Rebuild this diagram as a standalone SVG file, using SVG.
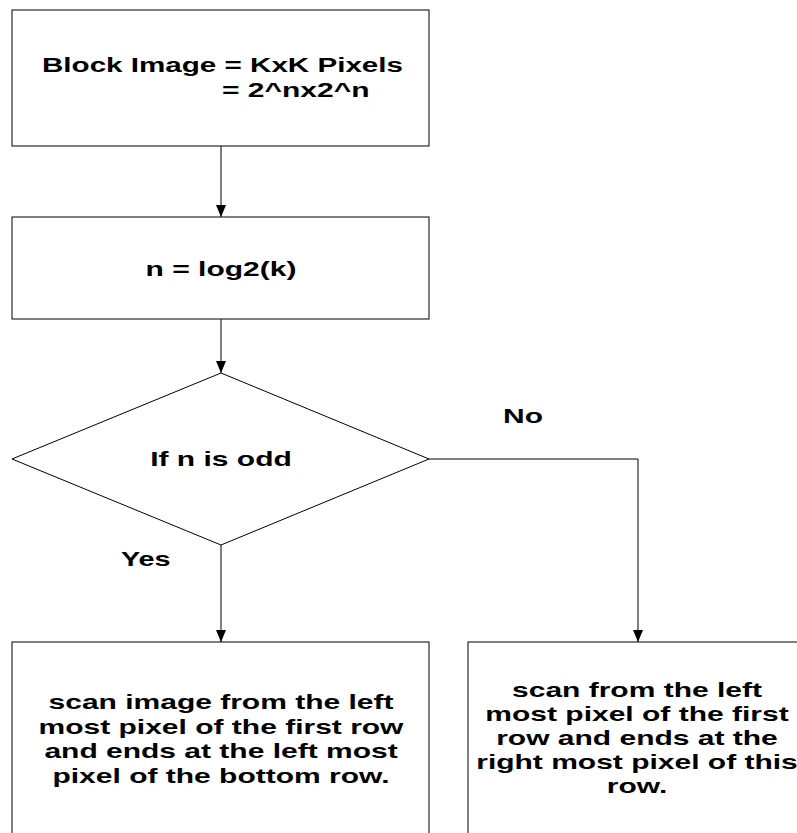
<svg xmlns="http://www.w3.org/2000/svg" width="797" height="833" viewBox="0 0 797 833">
  <style>
    .shape { fill: #ffffff; stroke: #000000; stroke-width: 1; }
    .wire { fill: none; stroke: #000000; stroke-width: 1; }
    .label { font-family: "Liberation Sans", Arial, sans-serif; font-weight: bold; font-size: 20px; fill: #000000; }
    .mid { text-anchor: middle; }
  </style>
  <defs>
    <marker id="arrow" markerWidth="12" markerHeight="10" refX="12" refY="5" orient="auto" markerUnits="userSpaceOnUse">
      <path d="M0,0 L12,5 L0,10 Z" fill="#000000"/>
    </marker>
  </defs>
  <rect width="797" height="833" fill="#ffffff"/>

  <g id="connectors">
    <line class="wire" x1="221" y1="146" x2="221" y2="217" marker-end="url(#arrow)"/>
    <line class="wire" x1="221" y1="319" x2="221" y2="373" marker-end="url(#arrow)"/>
    <line class="wire" x1="221" y1="545" x2="221" y2="642" marker-end="url(#arrow)"/>
    <polyline class="wire" points="429,459 638,459 638,642" marker-end="url(#arrow)"/>
    <text class="label" transform="translate(503,423) scale(1.5,1)">No</text>
    <text class="label" transform="translate(121,566) scale(1.44,1)">Yes</text>
  </g>

  <g id="block-image">
    <rect class="shape" x="12" y="10" width="417" height="136"/>
    <text class="label" transform="translate(42,72) scale(1.48,1)">Block Image = KxK Pixels</text>
    <text class="label" transform="translate(222,96.5) scale(1.5,1)">= 2^nx2^n</text>
  </g>

  <g id="compute-n">
    <rect class="shape" x="12" y="217" width="417" height="102"/>
    <text class="label mid" transform="translate(221,276) scale(1.5,1)">n = log2(k)</text>
  </g>

  <g id="odd-check">
    <polygon class="shape" points="221,373 429,459 221,545 12,459"/>
    <text class="label mid" transform="translate(221,466) scale(1.5,1)">If n is odd</text>
  </g>

  <g id="scan-odd">
    <rect class="shape" x="12" y="642" width="417" height="220"/>
    <text class="label mid" transform="translate(221,709) scale(1.5,1)">scan image from the left</text>
    <text class="label mid" transform="translate(221,733.5) scale(1.5,1)">most pixel of the first row</text>
    <text class="label mid" transform="translate(221,758) scale(1.5,1)">and ends at the left most</text>
    <text class="label mid" transform="translate(221,782.5) scale(1.5,1)">pixel of the bottom row.</text>
  </g>

  <g id="scan-even">
    <rect class="shape" x="468" y="642" width="360" height="220"/>
    <text class="label mid" transform="translate(637,697) scale(1.5,1)">scan from the left</text>
    <text class="label mid" transform="translate(637,721) scale(1.5,1)">most pixel of the first</text>
    <text class="label mid" transform="translate(637,745) scale(1.5,1)">row and ends at the</text>
    <text class="label mid" transform="translate(637,769) scale(1.5,1)">right most pixel of this</text>
    <text class="label mid" transform="translate(637,793) scale(1.5,1)">row.</text>
  </g>
</svg>
